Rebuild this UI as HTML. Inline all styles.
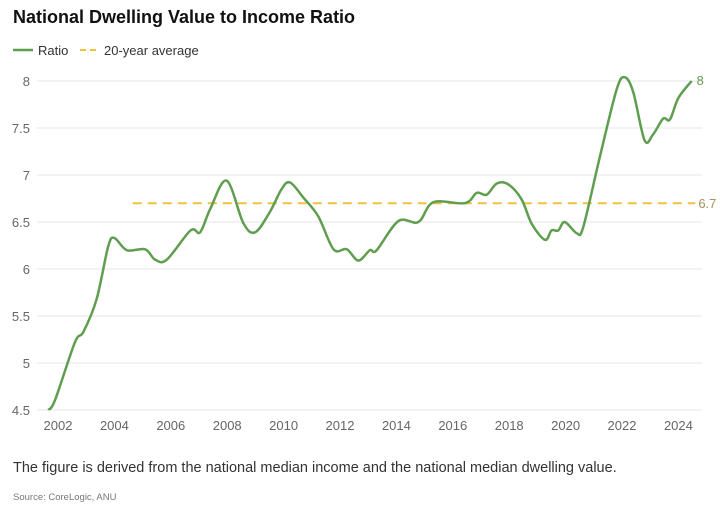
<!DOCTYPE html>
<html><head><meta charset="utf-8"><style>
body{margin:0;background:#fff;font-family:"Liberation Sans",sans-serif;}
svg{display:block}
</style></head><body>
<svg id="chart" width="723" height="510">
<text x="13" y="23" font-size="18" font-weight="bold" fill="#111">National Dwelling Value to Income Ratio</text>
<g>
<line x1="13" y1="50" x2="33" y2="50" stroke="#5f9e4f" stroke-width="2.5"/>
<text x="38" y="55" font-size="13" fill="#333">Ratio</text>
<line x1="80" y1="50" x2="100" y2="50" stroke="#f0c040" stroke-width="2" stroke-dasharray="6,4"/>
<text x="104" y="55" font-size="13" fill="#333">20-year average</text>
</g>
<g id="grid"></g><g id="plot"></g>
<text x="13" y="472" font-size="14.5" fill="#333">The figure is derived from the national median income and the national median dwelling value.</text>
<text x="13" y="500" font-size="9.5" fill="#777">Source: CoreLogic, ANU</text>
</svg>
<script>
const years=[2001.66,2001.9,2002.6,2002.9,2003.37,2003.78,2004.0,2004.44,2005.09,2005.44,2005.86,2006.7,2007.04,2007.4,2007.98,2008.57,2008.99,2009.5,2009.93,2010.23,2010.7,2011.23,2011.77,2012.24,2012.65,2013.06,2013.3,2014.07,2014.78,2015.31,2016.43,2016.85,2017.2,2017.56,2017.97,2018.44,2018.8,2019.27,2019.5,2019.74,2019.97,2020.4,2020.63,2021.22,2021.81,2022.1,2022.4,2022.8,2023.1,2023.46,2023.7,2024.0,2024.47];
const ratio=[4.5,4.61,5.22,5.33,5.68,6.24,6.33,6.2,6.21,6.1,6.1,6.41,6.39,6.64,6.94,6.49,6.39,6.6,6.85,6.92,6.76,6.56,6.21,6.21,6.09,6.2,6.2,6.51,6.5,6.71,6.7,6.81,6.79,6.91,6.9,6.74,6.48,6.31,6.41,6.41,6.5,6.38,6.45,7.2,7.91,8.04,7.88,7.37,7.43,7.6,7.59,7.82,8.0];
const average=[6.7];
const avgRange=[2004.65,2024.6];
const yTicks=[4.5,5,5.5,6,6.5,7,7.5,8];
const xTicks=[2002,2004,2006,2008,2010,2012,2014,2016,2018,2020,2022,2024];
const X=y=>58+(y-2002)*28.2;
const Y=v=>410-(v-4.5)*94;
const NS="http://www.w3.org/2000/svg";
const grid=document.getElementById('grid'),plot=document.getElementById('plot');
function mk(tag,attrs,parent,text){const e=document.createElementNS(NS,tag);for(const k in attrs)e.setAttribute(k,attrs[k]);if(text!==undefined)e.textContent=text;parent.appendChild(e);return e;}
yTicks.forEach(t=>{
 const l=mk('line',{x1:37,x2:702,y1:Y(t),y2:Y(t),stroke:'#e6e6e6','stroke-width':1},grid);
 
 
 const tx=mk('text',{x:30,y:Y(t)+5,'font-size':13,fill:'#666','text-anchor':'end'},grid,String(t));
 
 
});
xTicks.forEach(t=>{
 const tx=mk('text',{x:X(t),y:430,'font-size':13,fill:'#666','text-anchor':'middle'},grid,String(t));
 
 
});
const av=mk('line',{x1:X(avgRange[0]),x2:X(avgRange[1]),y1:Y(average[0]),y2:Y(average[0]),stroke:'#f0c040','stroke-width':2,'stroke-dasharray':'9,6'},plot);


const al=mk('text',{x:X(avgRange[1])+3,y:Y(average[0])+5,'font-size':13,fill:'#a8925a'},plot,String(average[0]));


const pts=years.map((y,i)=>[X(y),Y(ratio[i])]);
let d='M'+pts[0][0]+','+pts[0][1];
for(let i=0;i<pts.length-1;i++){
 const p0=pts[Math.max(0,i-1)],p1=pts[i],p2=pts[i+1],p3=pts[Math.min(pts.length-1,i+2)];
 const c1=[p1[0]+(p2[0]-p0[0])/6,p1[1]+(p2[1]-p0[1])/6],c2=[p2[0]-(p3[0]-p1[0])/6,p2[1]-(p3[1]-p1[1])/6];
 d+=` C${c1[0]},${c1[1]} ${c2[0]},${c2[1]} ${p2[0]},${p2[1]}`;
}
const ln=mk('path',{d:d,fill:'none',stroke:'#5f9e4f','stroke-width':2.5,'stroke-linejoin':'round'},plot);


const last=pts[pts.length-1];
const el=mk('text',{x:last[0]+5,y:last[1]+4,'font-size':13,fill:'#5f9e4f'},plot,String(ratio[ratio.length-1]));


</script>
</body></html>
